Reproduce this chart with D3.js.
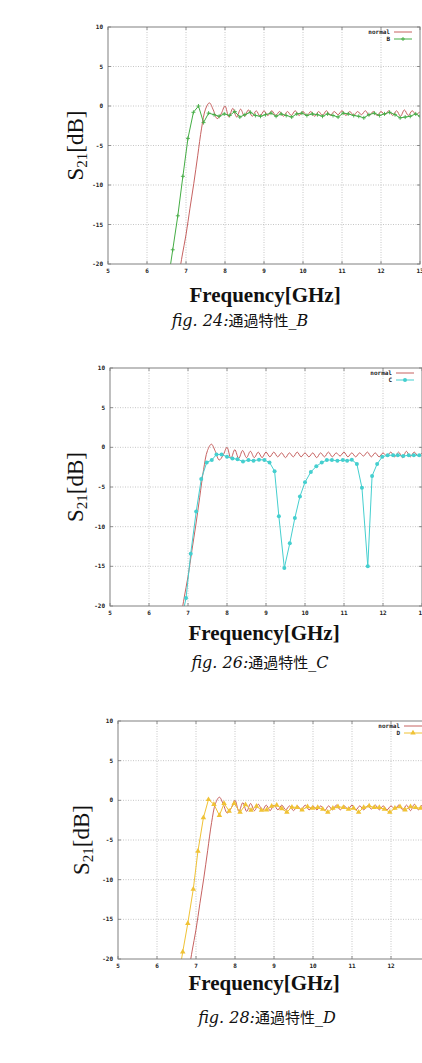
<html>
  <head>
    <title>S21 pass characteristics</title>
    <script type="text/javascript" src="https://cdn.jsdelivr.net/npm/d3@7" charset="utf-8"></script>
    <style>
      body { margin: 0; background: #fff; }
      .tick-label { font-family: "DejaVu Sans Mono", monospace; font-weight: bold; font-size: 6px; fill: #222; }
      .legend-label { font-family: "DejaVu Sans Mono", monospace; font-weight: bold; font-size: 6px; fill: #222; }
    </style>
  </head>
  <body>
    <div id="main"></div>
  <script>
    // axis ticks (same for all three plots)
    var xTicks = [5, 6, 7, 8, 9, 10, 11, 12, 13];
    var yTicks = [-20, -15, -10, -5, 0, 5, 10];

    // reference filter "normal"
    var normalFreq = [6.8, 6.9, 7.0, 7.1, 7.2, 7.3, 7.4, 7.5, 7.6, 7.7, 7.8, 7.9, 8.0, 8.1, 8.2, 8.3, 8.4, 8.5, 8.6, 8.7, 8.8, 8.9,
      9.0, 9.1, 9.2, 9.3, 9.4, 9.5, 9.6, 9.7, 9.8, 9.9, 10.0, 10.1, 10.2, 10.3, 10.4, 10.5, 10.6, 10.7, 10.8, 10.9,
      11.0, 11.1, 11.2, 11.3, 11.4, 11.5, 11.6, 11.7, 11.8, 11.9, 12.0, 12.1, 12.2, 12.3, 12.4, 12.5, 12.6, 12.7, 12.8, 12.9, 13.0];
    var normalS21 = [-22, -19, -16.3, -13, -9.8, -6.3, -2.8, -0.4, 0.4, -0.5, -1.6, -1.0, 0.0, -1.4, -0.3, -1.4, -0.4, -1.3, -0.5, -1.3, -0.6, -1.3,
      -0.6, -1.2, -0.6, -1.2, -0.7, -1.3, -0.7, -1.2, -0.6, -1.2, -0.7, -1.2, -0.7, -1.3, -0.7, -1.2, -0.6, -1.2, -0.7, -1.1,
      -0.6, -1.2, -0.7, -1.2, -0.7, -1.1, -0.6, -1.2, -0.7, -1.2, -0.7, -1.1, -0.6, -1.2, -0.6, -1.3, -0.5, -1.2, -0.6, -1.1, -0.7];

    // filter B
    var bFreq = [6.53, 6.66, 6.79, 6.92, 7.05, 7.19, 7.32, 7.45, 7.58, 7.72, 7.85, 7.98, 8.12, 8.25, 8.38, 8.51, 8.65, 8.78, 8.91,
      9.04, 9.18, 9.31, 9.44, 9.57, 9.71, 9.84, 9.97, 10.10, 10.24, 10.37, 10.50, 10.63, 10.77, 10.90,
      11.03, 11.16, 11.30, 11.43, 11.56, 11.69, 11.83, 11.96, 12.09, 12.22, 12.36, 12.49, 12.62, 12.75, 12.89, 13.0];
    var bS21 = [-22.5, -18.2, -13.9, -8.9, -4.1, -0.8, 0.0, -2.1, -0.9, -1.1, -1.3, -1.0, -1.2, -0.7, -1.4, -1.1, -0.8, -1.2, -1.3,
      -1.1, -0.9, -1.3, -1.0, -1.2, -1.4, -1.0, -0.9, -1.2, -1.0, -1.1, -1.3, -1.0, -1.2, -1.4,
      -0.9, -1.0, -1.2, -1.3, -1.5, -1.1, -0.9, -1.2, -1.0, -0.8, -1.1, -1.5, -1.4, -1.3, -1.0, -1.3];

    // filter C
    var cFreq = [6.82, 6.95, 7.07, 7.21, 7.34, 7.48, 7.61, 7.73, 7.86, 8.0, 8.14, 8.27, 8.41, 8.55, 8.68, 8.82, 8.96, 9.09, 9.22,
      9.33, 9.47, 9.61, 9.74, 9.87, 10.0, 10.15, 10.29, 10.43, 10.56, 10.69, 10.83, 10.97, 11.08, 11.2, 11.33, 11.46,
      11.61, 11.72, 11.85, 11.98, 12.12, 12.26, 12.38, 12.52, 12.66, 12.79, 12.93];
    var cS21 = [-22, -19.0, -13.4, -8.1, -4.0, -1.9, -1.6, -0.9, -0.9, -1.2, -1.4, -1.5, -1.8, -1.6, -1.7, -1.55, -1.6, -1.9, -3.0,
      -8.7, -15.2, -12.1, -8.9, -6.2, -4.4, -3.1, -2.4, -1.9, -1.6, -1.6, -1.7, -1.6, -1.7, -1.55, -2.1, -5.1,
      -15.0, -3.6, -2.1, -1.2, -1.0, -1.0, -1.0, -1.1, -1.0, -1.0, -1.0];

    // filter D
    var dFreq = [6.53, 6.66, 6.79, 6.93, 7.05, 7.19, 7.32, 7.46, 7.60, 7.72, 7.85, 7.98, 8.13, 8.27, 8.41, 8.55, 8.68, 8.81, 8.94,
      9.07, 9.20, 9.33, 9.46, 9.59, 9.72, 9.86, 9.99, 10.12, 10.25, 10.38, 10.51, 10.64, 10.78, 10.91,
      11.04, 11.17, 11.30, 11.44, 11.57, 11.70, 11.83, 11.97, 12.10, 12.23, 12.36, 12.50, 12.63, 12.76, 12.89, 13.02];
    var dS21 = [-23, -19.1, -15.5, -11.2, -6.4, -2.2, 0.1, -0.5, -1.9, -0.4, -1.35, -0.4, -1.5, -0.55, -1.25, -0.75, -1.25, -1.2, -0.75,
      -0.6, -1.05, -1.5, -0.85, -0.9, -1.2, -0.8, -1.0, -0.9, -1.1, -1.5, -1.0, -0.8, -0.9, -1.1,
      -1.0, -1.5, -0.9, -0.7, -0.9, -0.9, -1.1, -1.5, -1.0, -0.8, -1.2, -0.8, -0.9, -1.0, -0.8, -1.0];

    var normalColor = "#c0504f";

    // one entry per figure: where it sits on the page
    var panels = [
      { id: "B", fig: "24", freq: bFreq, s21: bS21, color: "#45ad45", marker: "plus",
        left: 108, right: 420, top: 27, bottom: 264, yLabelX: 83, xLabelX: 265, xLabelY: 302, capX: 240, capY: 326 },
      { id: "C", fig: "26", freq: cFreq, s21: cS21, color: "#45cfcf", marker: "circle",
        left: 110, right: 422, top: 368, bottom: 606, yLabelX: 83, xLabelX: 264, xLabelY: 640, capX: 260, capY: 668 },
      { id: "D", fig: "28", freq: dFreq, s21: dS21, color: "#f0c235", marker: "triangle",
        left: 118, right: 430, top: 721, bottom: 959, yLabelX: 89, xLabelX: 264, xLabelY: 990, capX: 267, capY: 1023 }
    ];

    var svg = d3.select("#main")
      .append("svg")
      .attr("width", 422)
      .attr("height", 1063)
      .style("display", "block");

    svg.append("rect").attr("width", 422).attr("height", 1063).attr("fill", "#fff");

    function drawMarker(g, type, x, y, color) {
      if (type === "plus") {
        g.append("path")
          .attr("d", "M" + (x - 2) + "," + y + "H" + (x + 2) + "M" + x + "," + (y - 2) + "V" + (y + 2))
          .attr("stroke", color).attr("stroke-width", 0.9);
      } else if (type === "circle") {
        g.append("circle").attr("cx", x).attr("cy", y).attr("r", 2).attr("fill", color);
      } else {
        g.append("path")
          .attr("d", d3.symbol().type(d3.symbolTriangle).size(13)())
          .attr("transform", "translate(" + x + "," + y + ")")
          .attr("fill", color);
      }
    }

    panels.forEach(function(p, i) {
      var x = d3.scaleLinear().domain([5, 13]).range([p.left, p.right]);
      var y = d3.scaleLinear().domain([-20, 10]).range([p.bottom, p.top]);
      var g = svg.append("g");

      // dotted grid
      g.selectAll(".gx").data(xTicks.slice(1, -1)).enter().append("line")
        .attr("x1", function(d) { return x(d); }).attr("x2", function(d) { return x(d); })
        .attr("y1", p.top).attr("y2", p.bottom)
        .attr("stroke", "#b8b8b8").attr("stroke-width", 0.8).attr("stroke-dasharray", "1,1.5");
      g.selectAll(".gy").data(yTicks.slice(1, -1)).enter().append("line")
        .attr("x1", p.left).attr("x2", p.right)
        .attr("y1", function(d) { return y(d); }).attr("y2", function(d) { return y(d); })
        .attr("stroke", "#b8b8b8").attr("stroke-width", 0.8).attr("stroke-dasharray", "1,1.5");

      // tick marks on all four sides
      xTicks.forEach(function(t) {
        g.append("path").attr("d", "M" + x(t) + "," + p.bottom + "v-3M" + x(t) + "," + p.top + "v3")
          .attr("stroke", "#777").attr("stroke-width", 0.8);
      });
      yTicks.forEach(function(t) {
        g.append("path").attr("d", "M" + p.left + "," + y(t) + "h3M" + p.right + "," + y(t) + "h-3")
          .attr("stroke", "#777").attr("stroke-width", 0.8);
      });

      // tick labels
      g.selectAll(".xl").data(xTicks).enter().append("text")
        .attr("class", "tick-label")
        .attr("x", function(d) { return x(d); })
        .attr("y", p.bottom + 9)
        .attr("text-anchor", "middle")
        .text(function(d) { return d; });
      g.selectAll(".yl").data(yTicks).enter().append("text")
        .attr("class", "tick-label")
        .attr("x", p.left - 5)
        .attr("y", function(d) { return y(d) + 2; })
        .attr("text-anchor", "end")
        .text(function(d) { return d; });

      // clip the curves to the plot box
      var clipId = "clip" + i;
      svg.append("clipPath").attr("id", clipId)
        .append("rect").attr("x", p.left).attr("y", p.top)
        .attr("width", p.right - p.left).attr("height", p.bottom - p.top);
      var plot = g.append("g").attr("clip-path", "url(#" + clipId + ")");

      var normalLine = d3.line()
        .x(function(d, k) { return x(normalFreq[k]); })
        .y(function(d) { return y(d); })
        .curve(d3.curveCatmullRom);
      plot.append("path")
        .attr("d", normalLine(normalS21))
        .attr("fill", "none").attr("stroke", normalColor).attr("stroke-width", 0.9);

      var seriesLine = d3.line()
        .x(function(d, k) { return x(p.freq[k]); })
        .y(function(d) { return y(d); });
      plot.append("path")
        .attr("d", seriesLine(p.s21))
        .attr("fill", "none").attr("stroke", p.color).attr("stroke-width", 1);
      p.s21.forEach(function(v, k) {
        drawMarker(plot, p.marker, x(p.freq[k]), y(v), p.color);
      });

      // frame
      g.append("rect")
        .attr("x", p.left).attr("y", p.top)
        .attr("width", p.right - p.left).attr("height", p.bottom - p.top)
        .attr("fill", "none").attr("stroke", "#808080").attr("stroke-width", 1);

      // legend
      var lx = p.right - 30;
      g.append("text").attr("class", "legend-label")
        .attr("x", lx).attr("y", p.top + 7).attr("text-anchor", "end").text("normal");
      g.append("line").attr("x1", lx + 4).attr("x2", lx + 22)
        .attr("y1", p.top + 5).attr("y2", p.top + 5)
        .attr("stroke", normalColor).attr("stroke-width", 0.9);
      g.append("text").attr("class", "legend-label")
        .attr("x", lx).attr("y", p.top + 14).attr("text-anchor", "end").text(p.id);
      g.append("line").attr("x1", lx + 4).attr("x2", lx + 22)
        .attr("y1", p.top + 12).attr("y2", p.top + 12)
        .attr("stroke", p.color).attr("stroke-width", 1);
      drawMarker(g, p.marker, lx + 13, p.top + 12, p.color);

      // axis titles
      var yl = svg.append("text")
        .attr("transform", "translate(" + p.yLabelX + "," + ((p.top + p.bottom) / 2) + ") rotate(-90)")
        .attr("text-anchor", "middle")
        .style("font-family", "'Liberation Serif', serif")
        .style("font-size", "23px")
        .style("fill", "#111");
      yl.append("tspan").text("S");
      yl.append("tspan").attr("dy", 4).style("font-size", "15px").text("21");
      yl.append("tspan").attr("dy", -4).text("[dB]");

      svg.append("text")
        .attr("x", p.xLabelX).attr("y", p.xLabelY)
        .attr("text-anchor", "middle")
        .style("font-family", "'Liberation Serif', serif")
        .style("font-weight", "bold")
        .style("font-size", "21px")
        .style("fill", "#111")
        .text("Frequency[GHz]");

      // caption
      var cap = svg.append("text")
        .attr("x", p.capX).attr("y", p.capY)
        .attr("text-anchor", "middle")
        .style("font-size", "16px")
        .style("fill", "#111");
      cap.append("tspan").style("font-family", "'DejaVu Serif', serif").style("font-style", "italic")
        .text("fig. " + p.fig + ":");
      cap.append("tspan").style("font-family", "'Noto Sans CJK JP', sans-serif").style("font-size", "15px")
        .text("通過特性");
      cap.append("tspan").style("font-family", "'DejaVu Serif', serif").style("font-style", "italic")
        .text("_" + p.id);
    });
  </script>
  </body>
</html>
